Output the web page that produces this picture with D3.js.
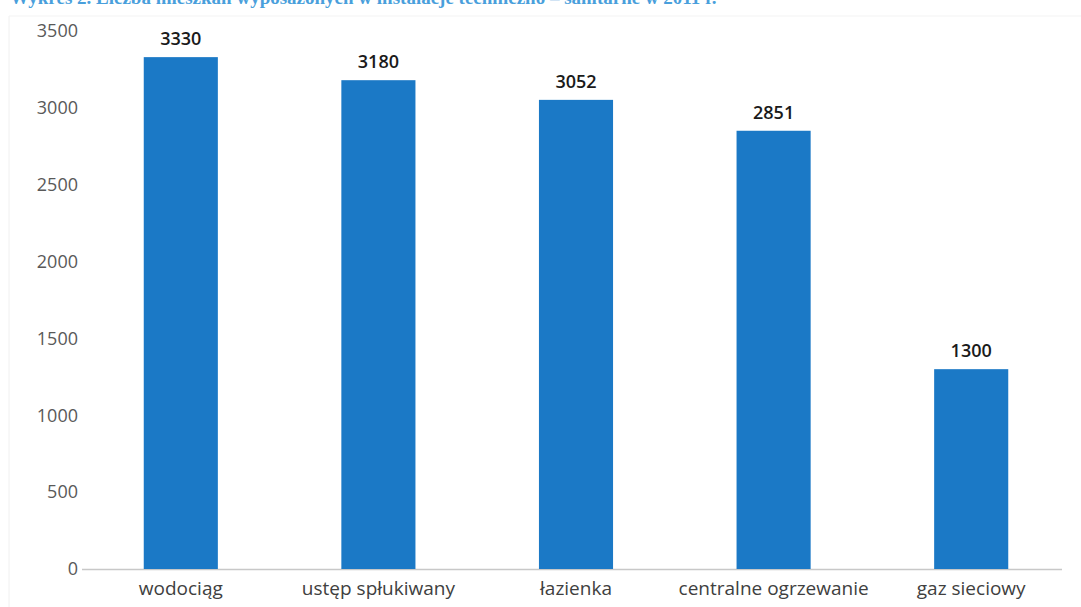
<!DOCTYPE html>
<html><head><meta charset="utf-8">
<script src="https://cdn.jsdelivr.net/npm/d3@7"></script>
<style>body{margin:0;background:#fff}svg{display:block}</style>
</head><body>
<svg id="c" width="1081" height="607"></svg>
<script>
const categories = ["wodociąg", "ustęp spłukiwany", "łazienka", "centralne ogrzewanie", "gaz sieciowy"];
const values = [3330, 3180, 3052, 2851, 1300];
const yTicks = [0, 500, 1000, 1500, 2000, 2500, 3000, 3500];
const title = "Wykres 2. Liczba mieszkań wyposażonych w instalacje techniczno – sanitarne w 2011 r.";

const svg = d3.select("#c");
const x = d3.scaleBand().domain(categories).range([82, 1070]).paddingInner(0.625).paddingOuter(0.3125);
const y = d3.scaleLinear().domain([0, 3500]).range([569, 31]);

// clipped title (cut off at the top edge, as in the reference)
svg.append("text").attr("x", 10).attr("y", 4)
  .attr("font-family", "Liberation Serif, serif").attr("font-weight", "bold")
  .attr("font-size", 19).attr("fill", "#2a8fd6").attr("opacity", 0.85).text(title);

// faint frame
svg.append("line").attr("x1", 9).attr("x2", 9).attr("y1", 16).attr("y2", 607).attr("stroke", "#f0f0f0");
svg.append("line").attr("x1", 9).attr("x2", 1081).attr("y1", 16).attr("y2", 16).attr("stroke", "#f3f3f3");

// y axis
const yAxis = d3.axisLeft(y).tickValues(yTicks).tickFormat(d3.format("d")).tickSize(0).tickPadding(0);
const gy = svg.append("g").attr("transform", "translate(78,0)").call(yAxis);
gy.select(".domain").remove();
gy.selectAll("text").attr("font-family", "Open Sans, sans-serif").attr("font-size", 18).attr("fill", "#595959");

// baseline
svg.append("line").attr("x1", 82).attr("x2", 1062).attr("y1", y(0)+0.5).attr("y2", y(0)+0.5)
  .attr("stroke", "#c8c8c8").attr("stroke-width", 1.5);

// bars
svg.append("g").selectAll("rect").data(values).join("rect")
  .attr("x", (d, i) => x(categories[i])).attr("width", x.bandwidth())
  .attr("y", d => y(d)).attr("height", d => y(0) - y(d)).attr("fill", "#1b79c6");

// value labels
svg.append("g").selectAll("text").data(values).join("text")
  .attr("x", (d, i) => x(categories[i]) + x.bandwidth() / 2).attr("y", d => y(d) - 12)
  .attr("text-anchor", "middle").attr("font-family", "Open Sans, sans-serif")
  .attr("font-size", 18).attr("font-weight", 600).attr("fill", "#1a1a1a").text(d => d);

// x axis
const xAxis = d3.axisBottom(x).tickSize(0).tickPadding(0);
const gx = svg.append("g").attr("transform", "translate(0,576)").call(xAxis);
gx.select(".domain").remove();
gx.selectAll("text").attr("font-family", "Open Sans, sans-serif").attr("font-size", 19).attr("fill", "#404040").attr("dy", "1.0em");
</script>
</body></html>
